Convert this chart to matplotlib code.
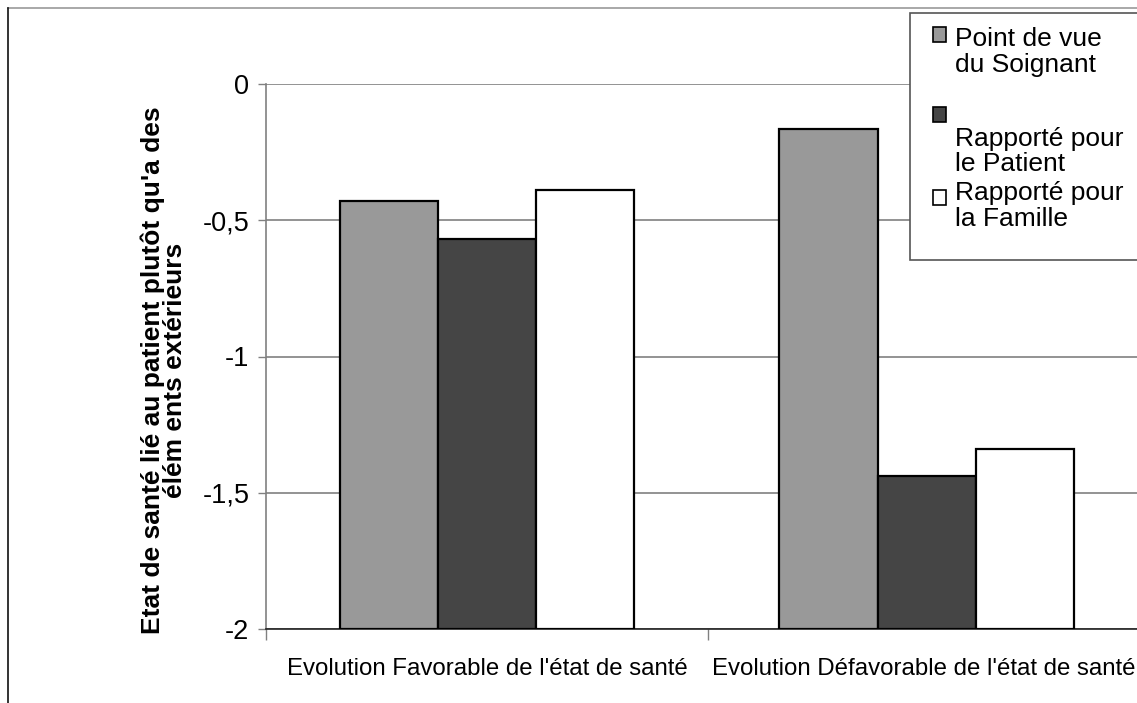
"""
Etat de santé lié au patient - bar chart (soignant / patient / famille).
"""

import matplotlib
matplotlib.use("Agg")
import matplotlib.pyplot as plt
from matplotlib import font_manager
from matplotlib.lines import Line2D
from matplotlib.patches import Rectangle

# ===============================
# Data
# ===============================

categories = [
    "Evolution Favorable de l'état de santé",
    "Evolution Défavorable de l'état de santé",
]
series_names = [
    "Point de vue\ndu Soignant",
    "Rapporté pour\nle Patient",
    "Rapporté pour\nla Famille",
]
soignant = [-0.43, -0.165]
patient = [-0.57, -1.44]
famille = [-0.39, -1.34]

y_ticks = [0, -0.5, -1, -1.5, -2]
y_tick_labels = ["0", "-0,5", "-1", "-1,5", "-2"]

colors = ["#999999", "#454545", "#ffffff"]

# ===============================
# Fonts
# ===============================

plt.rcParams["font.family"] = ["Liberation Sans", "DejaVu Sans"]

try:
    font_manager.findfont("Liberation Sans Narrow", fallback_to_default=False)
    tick_font = {"family": "Liberation Sans Narrow", "size": 21.5}
except Exception:
    tick_font = {"family": "Liberation Sans", "size": 19.5}

# ===============================
# Plot
# ===============================

W, H = 1137, 703
fig = plt.figure(figsize=(W / 100, H / 100), dpi=100)

# axes run past the right edge of the picture, as in the original
ax = fig.add_axes([266 / W, 1 - 629 / H, 884 / W, 545 / H])

bottom = -2
width = 0.2224
x = [0, 0.995]

for i, (vals, col) in enumerate(zip([soignant, patient, famille], colors)):
    xs = [xi + (i - 1) * width for xi in x]
    ax.bar(
        xs,
        [v - bottom for v in vals],
        bottom=bottom,
        width=width,
        color=col,
        edgecolor="black",
        linewidth=1.6,
        zorder=3,
    )

ax.set_xlim(-0.5, len(categories) - 0.5)
ax.set_ylim(-2, 0)

ax.set_yticks(y_ticks)
ax.set_yticklabels(y_tick_labels, **tick_font)
ax.tick_params(axis="y", length=6, width=1, color="#808080", pad=6)

# category boundaries carry the tick marks, labels sit in between
ax.set_xticks([i - 0.5 for i in range(len(categories) + 1)])
ax.set_xticklabels([])
ax.set_xticks([0, 0.987], minor=True)
ax.set_xticklabels(categories, minor=True, fontsize=17.3)
ax.tick_params(axis="x", which="major", length=8, width=1, color="#808080")
ax.tick_params(axis="x", which="minor", length=0, pad=21)

ax.yaxis.grid(True, color="#808080", linewidth=1.2, zorder=0)
ax.set_axisbelow(True)

for s in ["top", "right"]:
    ax.spines[s].set_visible(False)
ax.spines["left"].set_color("#808080")
ax.spines["left"].set_linewidth(1.2)
ax.spines["bottom"].set_color("#222222")
ax.spines["bottom"].set_linewidth(1.2)

fig.text(
    164 / W,
    1 - 370 / H,
    "Etat de santé lié au patient plutôt qu'a des\nélém ents extérieurs",
    rotation=90,
    ha="center",
    va="center",
    multialignment="center",
    fontsize=19,
    fontweight="bold",
    linespacing=0.88,
)

# outer frame of the chart area
fig.add_artist(Line2D([7.5 / W, 1.0], [1 - 8 / H, 1 - 8 / H], color="#999999", linewidth=1.2))
fig.add_artist(Line2D([7.5 / W, 7.5 / W], [1 - 8 / H, 0], color="#111111", linewidth=1.2))

# ===============================
# Legend (drawn by hand to keep the original layout)
# ===============================

fig.add_artist(
    Rectangle(
        (910 / W, 1 - 260 / H),
        300 / W,
        (260 - 12.7) / H,
        facecolor="white",
        edgecolor="#555555",
        linewidth=1.2,
    )
)

marker_tops = [27, 107, 190]
line_baselines = [(45.5, 72), (146, 171), (200.5, 226)]

for name, col, top, bases in zip(series_names, colors, marker_tops, line_baselines):
    fig.add_artist(
        Rectangle(
            (933 / W, 1 - (top + 15) / H),
            13 / W,
            15 / H,
            facecolor=col,
            edgecolor="black",
            linewidth=1.2,
        )
    )
    for line, base in zip(name.split("\n"), bases):
        fig.text(955 / W, 1 - base / H, line, fontsize=19, va="baseline", ha="left")

plt.savefig("out.png", dpi=100)
